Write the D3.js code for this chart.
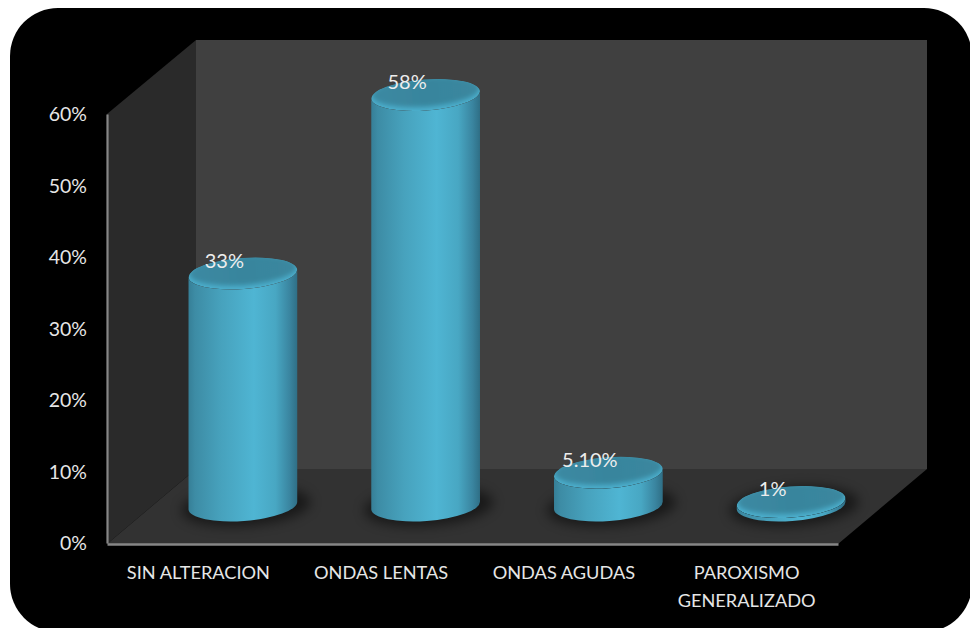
<!DOCTYPE html>
<html><head><meta charset="utf-8">
<script src="https://cdn.jsdelivr.net/npm/d3@7"></script>
<style>html,body{margin:0;padding:0;background:#fff}svg{display:block}</style>
</head><body><svg id="c" width="970" height="628"></svg>
<script>
const categories = ["SIN ALTERACION", "ONDAS LENTAS", "ONDAS AGUDAS", "PAROXISMO GENERALIZADO"];
const values = [33, 58, 5.1, 1];
const valueLabels = ["33%", "58%", "5.10%", "1%"];
const yTicks = [0, 10, 20, 30, 40, 50, 60];

const svg = d3.select("#c");
const font = "Lato, Carlito, sans-serif";
const W = {x0:107, x1:838, y0:544, y1:114, dx:89, dy:-75};

const x = d3.scaleBand().domain(categories).range([W.x0, W.x1]);
const yAxisScale = d3.scaleLinear().domain([0,60]).range([W.y0-1, W.y1]);
const yBar = d3.scaleLinear().domain([0,60]).range([509.1, 80.7]);
const baseY = 505.5, rx = 54.5, ry = 15.5, tilt = -4.2;
const cx = c => x(c) + x.bandwidth()/2 + 44.5;
const tdx = rx*Math.cos(tilt*Math.PI/180), tdy = rx*Math.sin(tilt*Math.PI/180);

const defs = svg.append("defs");
const body = defs.append("linearGradient").attr("id","body");
[[0,"#367f97"],[0.06,"#3d8ca5"],[0.3,"#47a2bd"],[0.6,"#4fb5d3"],[0.8,"#48a7c3"],[0.93,"#3a85a0"],[1,"#2f6f86"]]
  .forEach(s=>body.append("stop").attr("offset",s[0]).attr("stop-color",s[1]));
const cap = defs.append("linearGradient").attr("id","cap").attr("x1",0).attr("y1",0).attr("x2",1).attr("y2",0);
[[0,"#3b89a2"],[0.5,"#39859d"],[1,"#3a879f"]]
  .forEach(s=>cap.append("stop").attr("offset",s[0]).attr("stop-color",s[1]));
defs.append("filter").attr("id","blur").attr("x","-30%").attr("y","-60%").attr("width","160%").attr("height","220%")
  .append("feGaussianBlur").attr("stdDeviation",6);
defs.append("filter").attr("id","soft").attr("x","-10%").attr("y","-30%").attr("width","120%").attr("height","160%")
  .append("feGaussianBlur").attr("stdDeviation",2.4);
categories.forEach((c,i)=>{
  defs.append("clipPath").attr("id","clip"+i).append("ellipse")
    .attr("cx",cx(c)).attr("cy",yBar(values[i])).attr("rx",rx).attr("ry",ry)
    .attr("transform",`rotate(${tilt} ${cx(c)} ${yBar(values[i])})`);
});

// black rounded panel
svg.append("rect").attr("x",10).attr("y",8).attr("width",962).attr("height",624).attr("rx",48).attr("ry",48).attr("fill","#000");

// 3D walls
const poly = (pts,fill)=>svg.append("polygon").attr("points",pts.map(p=>p.join(",")).join(" ")).attr("fill",fill);
poly([[W.x0+W.dx,W.y1+W.dy+1],[W.x1+W.dx,W.y1+W.dy+1],[W.x1+W.dx,W.y0+W.dy],[W.x0+W.dx,W.y0+W.dy]],"#404040");
poly([[W.x0,W.y1],[W.x0+W.dx,W.y1+W.dy+1],[W.x0+W.dx,W.y0+W.dy],[W.x0,W.y0]],"#2a2a2a");
poly([[W.x0,W.y0],[W.x1,W.y0],[W.x1+W.dx,W.y0+W.dy],[W.x0+W.dx,W.y0+W.dy]],"#323232");

// cylinders
const g = svg.append("g").selectAll("g").data(categories).join("g");
g.append("ellipse").attr("cx",c=>cx(c)+3).attr("cy",baseY+1).attr("rx",rx+10).attr("ry",ry+4)
  .attr("transform",c=>`rotate(${tilt} ${cx(c)} ${baseY})`).attr("fill","#000").attr("opacity",0.5).attr("filter","url(#blur)");

g.append("path").attr("fill","url(#body)").attr("d",(c,i)=>{
  const top = yBar(values[i]), X = cx(c);
  return `M${X-tdx},${top-tdy} L${X-tdx},${baseY-tdy} A${rx},${ry} ${tilt} 0 0 ${X+tdx},${baseY+tdy} L${X+tdx},${top+tdy} A${rx},${ry} ${tilt} 0 1 ${X-tdx},${top-tdy} Z`;
});
const capG = g.append("g").attr("clip-path",(c,i)=>`url(#clip${i})`);
capG.append("ellipse").attr("cx",cx).attr("cy",(c,i)=>yBar(values[i])).attr("rx",rx).attr("ry",ry)
  .attr("transform",(c,i)=>`rotate(${tilt} ${cx(c)} ${yBar(values[i])})`).attr("fill","#4cb0ce");
capG.append("ellipse").attr("cx",cx).attr("cy",(c,i)=>yBar(values[i])-3).attr("rx",rx-0.5).attr("ry",ry-0.5)
  .attr("transform",(c,i)=>`rotate(${tilt} ${cx(c)} ${yBar(values[i])-3})`).attr("fill","url(#cap)").attr("filter","url(#soft)");

// axes
const yAxis = d3.axisLeft(yAxisScale).tickValues(yTicks).tickFormat(d=>d+"%").tickSize(0).tickPadding(20);
const ya = svg.append("g").attr("transform",`translate(${W.x0},0)`).call(yAxis);
ya.select(".domain").attr("stroke","#868686").attr("stroke-width",2.2);
ya.selectAll("text").attr("font-family",font).attr("font-size",19.5).attr("fill","#e6e6e6").attr("dy","0.35em");

const xAxis = d3.axisBottom(x).tickSize(0).tickPadding(0).tickFormat("");
const xa = svg.append("g").attr("transform",`translate(0,${W.y0})`).call(xAxis);
xa.select(".domain").attr("stroke","#868686").attr("stroke-width",2.6);
xa.selectAll(".tick text").each(function(d){
  const t = d3.select(this).text(null).attr("font-family",font).attr("font-size",18.2).attr("fill","#e6e6e6").attr("y",0).attr("dy",0);
  const words = d.includes("PAROXISMO") ? d.split(" ") : [d];
  words.forEach((w,k)=>t.append("tspan").attr("x",0).attr("y",35+k*28).text(w));
});

// value labels
svg.append("g").selectAll("text").data(categories).join("text")
  .attr("x",c=>cx(c)-18.5).attr("y",(c,i)=>yBar(values[i])-12.5).attr("dy","0.35em")
  .attr("text-anchor","middle").attr("font-family",font).attr("font-size",20).attr("fill","#ededed")
  .text((c,i)=>valueLabels[i]);
</script></body></html>
